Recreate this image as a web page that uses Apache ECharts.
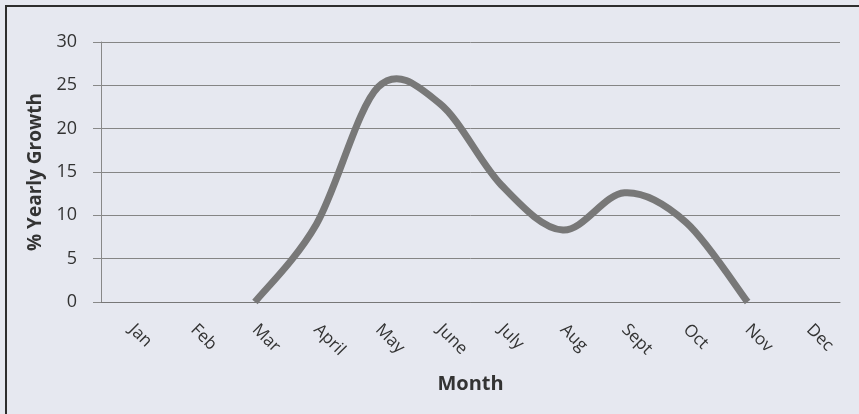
<!DOCTYPE html>
<html>
<head>
<meta charset="utf-8">
<script src="https://cdn.jsdelivr.net/npm/echarts@6/dist/echarts.min.js"></script>
<style>
  html, body { margin: 0; padding: 0; background: #e6e8f0; }
  #chart { width: 859px; height: 414px; }
</style>
</head>
<body>
<div id="chart"></div>
<script>
// months on the x axis
const months = ['Jan', 'Feb', 'Mar', 'April', 'May', 'June', 'July', 'Aug', 'Sept', 'Oct', 'Nov', 'Dec']
// % yearly growth (no data for Jan, Feb, Dec)
const growth = [null, null, 0, 9, 24.8, 22.9, 13.5, 8.3, 12.6, 9.2, 0, null]

const myChart = echarts.init(document.getElementById('chart'))
const textColor = '#333'
const font = '"Open Sans", Lato, sans-serif'

// points that have a value, as [categoryIndex, value]
const points = growth
  .map((v, i) => v == null ? null : [i, v])
  .filter(p => p)

// excel-like smoothed line (catmull-rom -> bezier) through the axis coords
function renderCurve(params, api) {
  if (params.dataIndex !== 0) return
  const pts = points.map(p => api.coord(p))
  const n = pts.length
  let d = `M${pts[0][0]},${pts[0][1]}`
  for (let i = 0; i < n - 1; i++) {
    const p0 = pts[Math.max(i - 1, 0)]
    const p1 = pts[i]
    const p2 = pts[i + 1]
    const p3 = pts[Math.min(i + 2, n - 1)]
    const c1 = [p1[0] + (p2[0] - p0[0]) / 6, p1[1] + (p2[1] - p0[1]) / 6]
    const c2 = [p2[0] - (p3[0] - p1[0]) / 6, p2[1] - (p3[1] - p1[1]) / 6]
    d += ` C${c1[0]},${c1[1]} ${c2[0]},${c2[1]} ${p2[0]},${p2[1]}`
  }
  return {
    type: 'path',
    shape: { pathData: d },
    style: { fill: 'none', stroke: '#787878', lineWidth: 7, lineCap: 'butt', lineJoin: 'round' }
  }
}

const option = {
  backgroundColor: '#e6e8f0',
  animation: false,
  graphic: [{
    type: 'rect',
    shape: { x: 6, y: 6, width: 900, height: 440 },
    style: { fill: 'none', stroke: '#2e2e2e', lineWidth: 2 }
  }],
  grid: {
    left: 101,
    right: 19,
    top: 42,
    bottom: 112
  },
  xAxis: {
    type: 'category',
    data: months,
    boundaryGap: true,
    name: 'Month',
    nameLocation: 'middle',
    nameGap: 72,
    nameTextStyle: { color: textColor, fontSize: 20, fontWeight: 'bold', fontFamily: font },
    axisLine: { lineStyle: { color: '#777', width: 1 } },
    axisTick: { length: 7, lineStyle: { color: '#777' } },
    axisLabel: {
      rotate: -45,
      interval: 0,
      color: textColor,
      fontSize: 17,
      fontFamily: font,
      margin: 25
    },
    splitLine: { show: false }
  },
  yAxis: {
    type: 'value',
    min: 0,
    max: 30,
    interval: 5,
    name: '% Yearly Growth',
    nameLocation: 'middle',
    nameGap: 52,
    nameTextStyle: { color: textColor, fontSize: 19, fontWeight: 'bold', fontFamily: font },
    axisLine: { show: true, lineStyle: { color: '#888', width: 1 } },
    axisTick: { show: true, length: 8, lineStyle: { color: '#888' } },
    axisLabel: { color: textColor, fontSize: 18, fontFamily: font, margin: 24 },
    splitLine: { lineStyle: { color: '#858585', width: 1 } }
  },
  series: [{
    name: '% Yearly Growth',
    type: 'custom',
    data: points,
    renderItem: renderCurve,
    encode: { x: 0, y: 1 }
  }]
}
myChart.setOption(option)
</script>
</body>
</html>
